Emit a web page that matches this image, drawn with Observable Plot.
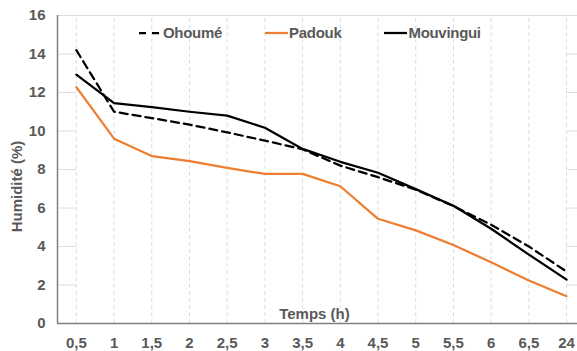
<!DOCTYPE html>
<html>
<head>
<meta charset="utf-8">
<script src="https://cdn.jsdelivr.net/npm/d3@7"></script>
<script src="https://cdn.jsdelivr.net/npm/@observablehq/plot@0.6"></script>
<style>
  html, body { margin: 0; padding: 0; background: #fff; }
  #wrap { position: relative; width: 577px; height: 351px; font-family: "Liberation Sans", Arial, sans-serif; }
  #legend { position: absolute; top: 24px; left: 139px; display: flex; gap: 43px; align-items: center;
            font-size: 15px; font-weight: bold; color: #595959; letter-spacing: -0.3px; }
  #legend .item { display: flex; align-items: center; gap: 1px; }
  #legend svg { display: block; }
</style>
</head>
<body>
<div id="wrap">
  <div id="chart"></div>
  <div id="legend"></div>
</div>
<script>
// Time steps (hours) shown as category labels
const categories = ["0,5", "1", "1,5", "2", "2,5", "3", "3,5", "4", "4,5", "5", "5,5", "6", "6,5", "24"];

// Moisture content (%) per wood species
const ohoume    = [14.2, 11.0, 10.67, 10.33, 9.93, 9.5, 9.05, 8.2, 7.6, 6.95, 6.1, 5.13, 4.0, 2.7];
const padouk    = [12.28, 9.6, 8.7, 8.43, 8.08, 7.77, 7.77, 7.13, 5.44, 4.84, 4.08, 3.18, 2.23, 1.42];
const mouvingui = [12.93, 11.45, 11.24, 11.0, 10.8, 10.17, 9.07, 8.4, 7.83, 6.98, 6.12, 4.92, 3.58, 2.28];

const yTicks = [0, 2, 4, 6, 8, 10, 12, 14, 16];

const series = [
  { name: "Padouk",    values: padouk,    color: "#ED7D31", dash: null },
  { name: "Ohoumé",    values: ohoume,    color: "#000000", dash: "8,5" },
  { name: "Mouvingui", values: mouvingui, color: "#000000", dash: null }
];

const idx = d3.range(categories.length);
const xMin = -0.5, xMax = categories.length - 1 + 0.29;
const gridColor = "#dedede";
const axisColor = "#808080";
const textColor = "#595959";
const inner = yTicks.filter(v => v > 0 && v < 16);

const marks = [
  // dashed vertical guides at each time step
  Plot.ruleX(idx, { x: d => d, y1: 0, y2: 16, stroke: gridColor, strokeDasharray: "4,3", strokeWidth: 1 }),
  // top gridline spans the whole plot
  Plot.ruleY([16], { x1: xMin, x2: xMax, stroke: gridColor, strokeWidth: 1 }),
  // short horizontal gridline segments at the plot edges
  Plot.ruleY(inner, { x1: xMin, x2: 0, stroke: gridColor, strokeWidth: 1 }),
  Plot.ruleY(inner, { x1: categories.length - 1, x2: xMax, stroke: gridColor, strokeWidth: 1 }),
  // axis lines
  Plot.ruleX([xMin], { y1: 0, y2: 16, stroke: axisColor, strokeWidth: 1.5 }),
  Plot.ruleY([0], { x1: xMin, x2: xMax, stroke: axisColor, strokeWidth: 1.5 }),
  Plot.axisY({ ticks: yTicks, tickSize: 0, tickPadding: 12, label: null,
               fontSize: 15, fontWeight: "bold", fill: textColor }),
  Plot.axisX({ ticks: idx, tickFormat: i => categories[i], tickSize: 0, tickPadding: 14, label: null,
               fontSize: 15, fontWeight: "bold", fill: textColor }),
  // axis titles
  Plot.text(["Temps (h)"], { frameAnchor: "bottom", dy: -5, dx: -3, fill: textColor,
                             fontSize: 15, fontWeight: "bold", letterSpacing: "-0.5px" }),
  Plot.text(["Humidité (%)"], { frameAnchor: "left", textAnchor: "middle", rotate: -90, dx: -40, dy: 17,
                                fill: textColor, fontSize: 15, fontWeight: "bold", letterSpacing: "-0.3px" })
];

for (const s of series) {
  marks.push(Plot.line(s.values.map((v, i) => ({ i, v })), {
    x: "i", y: "v", stroke: s.color, strokeWidth: 2.25,
    strokeDasharray: s.dash ?? undefined, curve: "linear"
  }));
}

const chart = Plot.plot({
  width: 577,
  height: 351,
  marginLeft: 57,
  marginRight: 0,
  marginTop: 15,
  marginBottom: 28,
  x: { type: "linear", domain: [xMin, xMax] },
  y: { domain: [0, 16] },
  style: {
    fontFamily: "'Liberation Sans', Arial, sans-serif",
    fontSize: "15px",
    fontWeight: "bold",
    color: textColor,
    background: "#fff"
  },
  marks
});
document.getElementById("chart").appendChild(chart);

// legend drawn in the order Ohoumé, Padouk, Mouvingui
const legendOrder = ["Ohoumé", "Padouk", "Mouvingui"];
const legend = d3.select("#legend");
for (const name of legendOrder) {
  const s = series.find(d => d.name === name);
  const item = legend.append("div").attr("class", "item");
  const sw = item.append("svg").attr("width", 23).attr("height", 6);
  sw.append("line").attr("x1", 0).attr("x2", 23).attr("y1", 3).attr("y2", 3)
    .attr("stroke", s.color).attr("stroke-width", 2.25)
    .attr("stroke-dasharray", s.dash ? "7,6" : null);
  item.append("span").text(s.name);
}
</script>
</body>
</html>
